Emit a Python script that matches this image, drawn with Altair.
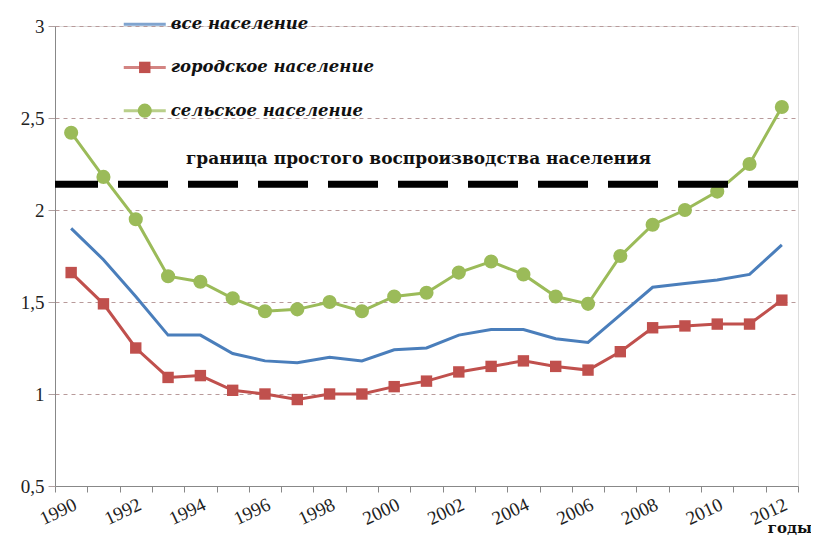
import altair as alt
import pandas as pd

years = list(range(1990, 2013))
total = [1.90, 1.73, 1.53, 1.32, 1.32, 1.22, 1.18, 1.17, 1.20, 1.18, 1.24, 1.25,
         1.32, 1.35, 1.35, 1.30, 1.28, 1.43, 1.58, 1.60, 1.62, 1.65, 1.81]
urban = [1.66, 1.49, 1.25, 1.09, 1.10, 1.02, 1.00, 0.97, 1.00, 1.00, 1.04, 1.07,
         1.12, 1.15, 1.18, 1.15, 1.13, 1.23, 1.36, 1.37, 1.38, 1.38, 1.51]
rural = [2.42, 2.18, 1.95, 1.64, 1.61, 1.52, 1.45, 1.46, 1.50, 1.45, 1.53, 1.55,
         1.66, 1.72, 1.65, 1.53, 1.49, 1.75, 1.92, 2.00, 2.10, 2.25, 2.56]
series_names = ["все население", "городское население", "сельское население"]
series_colors = ["#4a7ebb", "#c0504d", "#9bbb59"]
threshold = 2.14
threshold_label = "граница простого воспроизводства  населения"
y_ticks = [0.5, 1, 1.5, 2, 2.5, 3]
legend_y = [3.01, 2.775, 2.54]
legend_year = 1992

rows = []
for name, vals in zip(series_names, [total, urban, rural]):
    for yr, v in zip(years, vals):
        rows.append({"year": yr, "value": v, "series": name})
df = pd.DataFrame(rows)
leg = pd.DataFrame({"series": series_names, "ly": legend_y, "lx": [legend_year] * 3})

serif = "Liberation Serif"
serif2 = "DejaVu Serif"
xs = alt.X("year:O", scale=alt.Scale(type="band", paddingInner=0, paddingOuter=0, domain=years),
           axis=alt.Axis(title=None, tickBand="extent", labelAngle=-25, labelAlign="right",
                         labelBaseline="top", labelPadding=3, tickSize=6,
                         labelExpr="parseInt(datum.value) % 2 == 0 ? datum.label : ''",
                         labelFont=serif, labelFontSize=19, labelColor="#222",
                         domainColor="#888", tickColor="#888", grid=False))
ys = alt.Y("value:Q", scale=alt.Scale(domain=[0.5, 3], nice=False, zero=False),
           axis=alt.Axis(title=None, values=y_ticks,
                         labelExpr="replace(format(datum.value, '~g'), '.', ',')",
                         labelFont=serif, labelFontSize=19, labelColor="#222", labelPadding=4,
                         domainColor="#888", tickColor="#b0a0a0", tickSize=7,
                         grid=True, gridColor="#b89a9a", gridDash=[4, 4], gridWidth=1))
color = alt.Color("series:N", scale=alt.Scale(domain=series_names, range=series_colors), legend=None)

base = alt.Chart(df)
lines = base.mark_line(strokeWidth=3).encode(x=xs, y=ys, color=color)
pts_u = base.transform_filter(alt.datum.series == series_names[1]).mark_point(
    shape="square", filled=True, size=130, opacity=1).encode(x=xs, y=ys, color=color)
pts_r = base.transform_filter(alt.datum.series == series_names[2]).mark_point(
    shape="circle", filled=True, size=200, opacity=1).encode(x=xs, y=ys, color=color)

rule = alt.Chart(pd.DataFrame({"t": [threshold]})).mark_rule(
    color="black", strokeWidth=7, strokeDash=[50, 20]).encode(y="t:Q")
label = alt.Chart(pd.DataFrame({"t": [threshold], "year": [2001], "txt": [threshold_label]})).mark_text(
    font=serif2, fontSize=17, fontWeight="bold", color="#111", dy=-25, dx=-8).encode(
    x=alt.X("year:O"), y="t:Q", text="txt:N")

lb = alt.Chart(leg)
leg_line = lb.mark_tick(orient="horizontal", size=42, thickness=3, xOffset=9).encode(
    x=alt.X("lx:O"), y=alt.Y("ly:Q"), color=color)
leg_sq = lb.transform_filter(alt.datum.series == series_names[1]).mark_point(
    shape="square", filled=True, size=130, opacity=1, xOffset=9).encode(
    x=alt.X("lx:O"), y=alt.Y("ly:Q"), color=color)
leg_ci = lb.transform_filter(alt.datum.series == series_names[2]).mark_point(
    shape="circle", filled=True, size=200, opacity=1, xOffset=9).encode(
    x=alt.X("lx:O"), y=alt.Y("ly:Q"), color=color)
leg_txt = lb.mark_text(align="left", dx=35, font=serif2, fontSize=16.5, fontStyle="italic",
                       fontWeight="bold", color="#111").encode(
    x=alt.X("lx:O"), y=alt.Y("ly:Q"), text="series:N")

xt = alt.Chart(pd.DataFrame({"year": [2012], "v": [0.5], "txt": ["годы"]})).mark_text(
    font=serif2, fontSize=15, fontWeight="bold", color="#111", dy=42, dx=8).encode(
    x=alt.X("year:O"), y="v:Q", text="txt:N")

chart = alt.layer(lines, pts_u, pts_r, rule, label, leg_line, leg_sq, leg_ci, leg_txt, xt).properties(
    width=743, height=460,
    autosize=alt.AutoSizeParams(type="none"),
    padding={"left": 47, "top": 18, "right": 13, "bottom": 52},
).configure_view(stroke=None).configure(background="white")

chart.save("out.html", embed_options={"renderer": "svg", "actions": False})
